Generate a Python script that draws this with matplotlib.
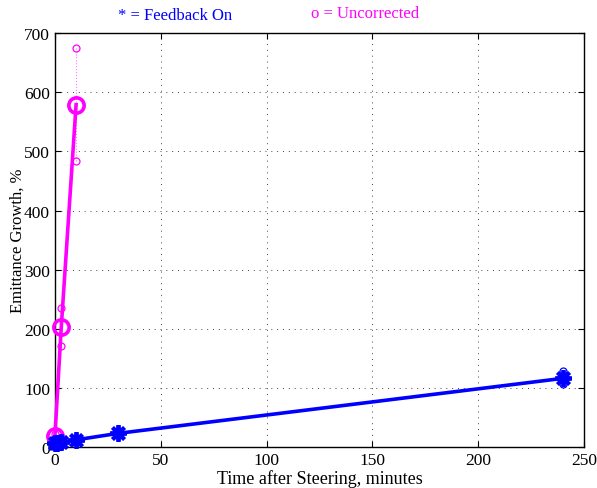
import numpy as np
import matplotlib
matplotlib.use('Agg')
import matplotlib.pyplot as plt

# emittance growth (%) vs time after steering (minutes)
t_fb = [0, 1, 3, 10, 30, 240]
fb_mean = [6, 7, 8, 12, 23, 116]
fb_hi = [8, 9, 10, 14, 26, 128]
fb_lo = [4, 5, 6, 10, 21, 106]

t_unc = [0, 3, 10]
unc_mean = [18, 203, 579]
unc_hi = [22, 235, 675]
unc_lo = [14, 171, 483]

BLUE = '#0000FF'
MAG = '#FF00FF'

plt.rcParams['font.family'] = ['Liberation Serif', 'DejaVu Serif']

fig = plt.figure(figsize=(5.97, 4.89), dpi=100)
ax = fig.add_axes([0.092, 0.084, 0.886, 0.846])

# individual runs: small circles joined by thin dotted lines
for t, lo, hi in zip(t_unc, unc_lo, unc_hi):
    ax.plot([t, t], [lo, hi], ':', color='#FF77FF', lw=0.8, clip_on=False)
ax.plot(t_unc, unc_hi, 'o', color=MAG, mfc='none', ms=5, mew=0.9, clip_on=False)
ax.plot(t_unc, unc_lo, 'o', color=MAG, mfc='none', ms=5, mew=0.9, clip_on=False)
ax.plot(t_unc, unc_mean, '-o', color=MAG, mfc='none', ms=11, mew=2.6, lw=2.6,
        clip_on=False, zorder=3)

for t, lo, hi in zip(t_fb, fb_lo, fb_hi):
    ax.plot([t, t], [lo, hi], ':', color=BLUE, lw=0.8, clip_on=False)
ax.plot(t_fb, fb_hi, 'o', color=BLUE, mfc='none', ms=5, mew=0.9, clip_on=False)
ax.plot(t_fb, fb_lo, 'o', color=BLUE, mfc='none', ms=5, mew=0.9, clip_on=False)
ax.plot(t_fb, fb_mean, '-', color=BLUE, lw=2.6, zorder=4)
ax.plot(t_fb, fb_mean, ls='none', marker=(8, 2, 0), color=BLUE, ms=12, mew=2.8,
        clip_on=False, zorder=4)

ax.set_xlim(0, 250)
ax.set_ylim(0, 700)
ax.set_xticks(np.arange(0, 251, 50))
ax.set_yticks(np.arange(0, 701, 100))
ax.grid(True, ls=(0, (1, 5)), color='#444444', lw=0.7)
ax.tick_params(direction='in', labelsize=12.5, top=True, right=True, length=4)
for s in ax.spines.values():
    s.set_linewidth(1.0)

ax.set_xlabel('Time after Steering, minutes', fontsize=13, labelpad=1)
ax.set_ylabel('Emittance Growth, %', fontsize=12, labelpad=-1)

fig.text(0.293, 0.967, '* = Feedback On', color=BLUE, fontsize=12, ha='center', va='center')
fig.text(0.612, 0.971, 'o = Uncorrected', color=MAG, fontsize=12, ha='center', va='center')

fig.savefig('out.png', dpi=100)
